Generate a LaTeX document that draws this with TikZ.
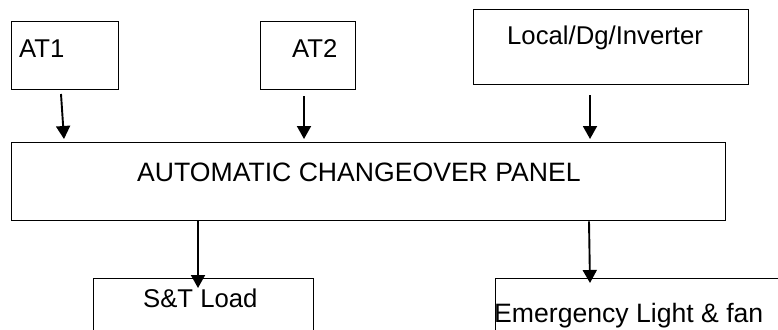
\documentclass[tikz,border=0pt]{standalone}
\usepackage{fontspec}
\setmainfont{Liberation Sans}
\usetikzlibrary{arrows.meta}

\begin{document}
\begin{tikzpicture}[x=1pt, y=-1pt, >={Triangle[length=13pt,width=14pt]},
    box/.style={draw, line width=1.3pt, inner sep=0pt, anchor=north west},
    lbl/.style={anchor=base west, inner sep=0pt, font=\fontsize{25.7}{30}\selectfont},
    biglbl/.style={lbl, font=\fontsize{26.6}{30}\selectfont},
    arr/.style={->, line width=1.9pt}]
    \useasboundingbox (0,0) rectangle (778,329);
    \clip (0,0) rectangle (778,329);

    % Khung
    \node[box, minimum width=107pt, minimum height=68pt] (at1) at (11,21) {};
    \node[box, minimum width=95pt, minimum height=68pt] (at2) at (260,21) {};
    \node[box, minimum width=275pt, minimum height=75pt] (local) at (473,9) {};
    \node[box, minimum width=714pt, minimum height=78pt] (panel) at (11,142) {};
    \node[box, minimum width=220pt, minimum height=80pt] (stload) at (93,278) {};
    \node[box, minimum width=300pt, minimum height=80pt] (emerg) at (495,278) {};

    % Nhãn
    \node[lbl] (at1txt) at (19,58) {AT1};
    \node[lbl] (at2txt) at (292,58) {AT2};
    \node[lbl] (localtxt) at (507,45) {Local/Dg/Inverter};
    \node[biglbl] (paneltxt) at (137,181) {AUTOMATIC CHANGEOVER PANEL};
    \node[lbl] (sttxt) at (143,307) {S\&T Load};
    \node[biglbl] (emergtxt) at (494,322) {Emergency Light \& fan};

    % Mũi tên
    \coordinate (t1) at (64,139);
    \coordinate (t2) at (304,139);
    \coordinate (t3) at (590,139);
    \coordinate (t4) at (198,288);
    \coordinate (t5) at (590,283);
    \draw[arr] (61,94) -- (t1);
    \draw[arr] ([yshift=-6pt]at2.south -| t2) -- (t2);
    \draw[arr] ([yshift=-10pt]local.south -| t3) -- (t3);
    \draw[arr] (panel.south -| t4) -- (t4);
    \draw[arr] (panel.south -| 589,0) -- (t5);
\end{tikzpicture}
\end{document}
